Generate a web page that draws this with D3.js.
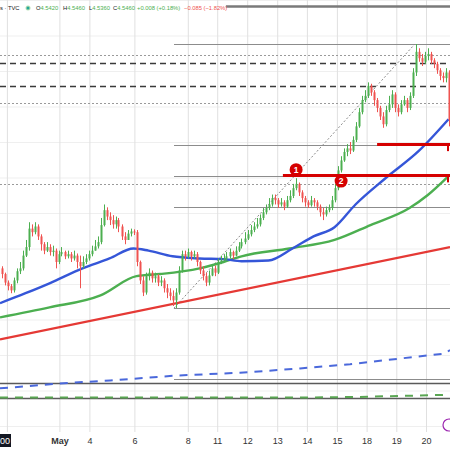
<!DOCTYPE html>
<html>
<head>
<meta charset="utf-8">
<title>TVC 2H chart</title>
<style>
  body { margin: 0; background: #fff; }
  svg { display: block; font-family: "Liberation Sans", Arial, sans-serif; }
  .hgrid line { stroke: #efefef; }
  .vgrid line { stroke: #e0e0e0; }
  .hgrid path, .vgrid path, .xaxis path, .xaxis line { display: none; }
  .xaxis text { fill: #333; font-size: 9px; }
</style>
</head>
<body>
<div id="chart"></div>
<script src="https://cdn.jsdelivr.net/npm/d3@7"></script>
<script>
// candles (open = previous close)
var firstOpen = 4.422;
var closes = [
  4.414, 4.402, 4.397, 4.391, 4.405, 4.418, 4.422, 4.440, 4.452, 4.478,
  4.473, 4.481, 4.467, 4.456, 4.447, 4.452, 4.445, 4.447, 4.431, 4.442,
  4.445, 4.439, 4.442, 4.436, 4.440, 4.431, 4.425, 4.431, 4.436, 4.442,
  4.447, 4.453, 4.459, 4.483, 4.504, 4.495, 4.490, 4.484, 4.490, 4.481,
  4.467, 4.462, 4.471, 4.474, 4.473, 4.431, 4.405, 4.388, 4.411, 4.416,
  4.408, 4.411, 4.402, 4.405, 4.394, 4.388, 4.383, 4.377, 4.388, 4.419,
  4.442, 4.439, 4.445, 4.439, 4.442, 4.431, 4.419, 4.411, 4.402, 4.412,
  4.422, 4.416, 4.431, 4.433, 4.436, 4.439, 4.445, 4.440, 4.447, 4.453,
  4.459, 4.464, 4.470, 4.476, 4.481, 4.484, 4.493, 4.501, 4.507, 4.512,
  4.521, 4.518, 4.512, 4.515, 4.509, 4.518, 4.524, 4.535, 4.541, 4.529,
  4.521, 4.515, 4.511, 4.518, 4.515, 4.509, 4.501, 4.498, 4.504, 4.507,
  4.518, 4.535, 4.560, 4.574, 4.586, 4.591, 4.588, 4.603, 4.622, 4.642,
  4.659, 4.665, 4.679, 4.670, 4.659, 4.648, 4.636, 4.625, 4.645, 4.653,
  4.667, 4.648, 4.642, 4.653, 4.659, 4.648, 4.665, 4.698, 4.727, 4.718,
  4.713, 4.721, 4.724, 4.715, 4.710, 4.701, 4.693, 4.690, 4.698, 4.631
];
var highs = [
  4.425, 4.416, 4.405, 4.400, 4.409, 4.422, 4.431, 4.447, 4.462, 4.487,
  4.484, 4.487, 4.484, 4.470, 4.459, 4.459, 4.456, 4.454, 4.450, 4.447,
  4.452, 4.447, 4.447, 4.445, 4.447, 4.443, 4.440, 4.439, 4.442, 4.447,
  4.454, 4.462, 4.467, 4.493, 4.512, 4.508, 4.501, 4.497, 4.495, 4.493,
  4.484, 4.473, 4.476, 4.478, 4.477, 4.476, 4.433, 4.411, 4.416, 4.422,
  4.419, 4.416, 4.414, 4.411, 4.408, 4.400, 4.394, 4.391, 4.394, 4.425,
  4.447, 4.447, 4.450, 4.447, 4.447, 4.445, 4.433, 4.425, 4.416, 4.419,
  4.428, 4.426, 4.436, 4.440, 4.442, 4.445, 4.450, 4.447, 4.453, 4.459,
  4.464, 4.473, 4.476, 4.483, 4.487, 4.493, 4.498, 4.507, 4.512, 4.521,
  4.526, 4.526, 4.521, 4.521, 4.518, 4.524, 4.532, 4.541, 4.549, 4.543,
  4.532, 4.524, 4.518, 4.524, 4.521, 4.518, 4.512, 4.507, 4.509, 4.512,
  4.524, 4.541, 4.566, 4.580, 4.591, 4.597, 4.600, 4.608, 4.628, 4.648,
  4.665, 4.673, 4.684, 4.682, 4.673, 4.662, 4.651, 4.642, 4.651, 4.665,
  4.673, 4.670, 4.653, 4.659, 4.665, 4.662, 4.670, 4.704, 4.738, 4.732,
  4.724, 4.727, 4.732, 4.727, 4.718, 4.713, 4.704, 4.698, 4.704, 4.701
];
var lows = [
  4.408, 4.398, 4.391, 4.387, 4.388, 4.401, 4.414, 4.419, 4.438, 4.447,
  4.467, 4.470, 4.462, 4.447, 4.442, 4.445, 4.440, 4.439, 4.422, 4.428,
  4.439, 4.435, 4.436, 4.431, 4.433, 4.422, 4.394, 4.422, 4.428, 4.433,
  4.439, 4.447, 4.450, 4.456, 4.481, 4.490, 4.483, 4.478, 4.478, 4.473,
  4.462, 4.456, 4.462, 4.467, 4.469, 4.425, 4.400, 4.383, 4.385, 4.405,
  4.402, 4.402, 4.397, 4.397, 4.388, 4.380, 4.377, 4.369, 4.366, 4.385,
  4.416, 4.433, 4.436, 4.433, 4.436, 4.425, 4.414, 4.405, 4.397, 4.398,
  4.411, 4.411, 4.414, 4.428, 4.431, 4.433, 4.436, 4.435, 4.439, 4.445,
  4.450, 4.456, 4.462, 4.467, 4.473, 4.478, 4.481, 4.490, 4.498, 4.504,
  4.509, 4.512, 4.507, 4.509, 4.504, 4.507, 4.515, 4.521, 4.532, 4.524,
  4.515, 4.509, 4.507, 4.509, 4.509, 4.504, 4.495, 4.490, 4.495, 4.501,
  4.504, 4.515, 4.532, 4.557, 4.572, 4.580, 4.583, 4.586, 4.600, 4.620,
  4.639, 4.656, 4.662, 4.665, 4.651, 4.642, 4.631, 4.620, 4.622, 4.642,
  4.648, 4.642, 4.636, 4.639, 4.651, 4.642, 4.645, 4.662, 4.693, 4.713,
  4.707, 4.710, 4.715, 4.710, 4.704, 4.696, 4.687, 4.684, 4.684, 4.622
];

// moving averages (knots at bar positions)
var maBlueAt = [0, 8.5, 16.5, 27.5, 36.5, 44.5, 49.5, 57.5, 66.5, 74.5, 80.5, 89.5, 97.5, 104.5, 111.5, 118.5, 128.5, 139.5, 149.5];
var maBlue = [4.373, 4.387, 4.401, 4.422, 4.436, 4.450, 4.447, 4.439, 4.436, 4.435, 4.432, 4.433, 4.450, 4.467, 4.480, 4.512, 4.549, 4.587, 4.632];
var maGreenAt = [0, 16.5, 33.5, 45.5, 53.5, 66.5, 74.5, 80.5, 96.5, 111.5, 123.5, 136.5, 142.5, 149.5];
var maGreen = [4.353, 4.367, 4.384, 4.411, 4.414, 4.422, 4.431, 4.439, 4.450, 4.462, 4.483, 4.507, 4.525, 4.552];
var longBlueAt = [0, 20, 36.7, 58.3, 80, 100, 116.7, 133.3, 148.3, 150];
var longBlue = [4.253, 4.260, 4.264, 4.271, 4.275, 4.281, 4.287, 4.295, 4.302, 4.307];
var longGreenAt = [0, 100, 120, 150];
var longGreen = [4.240, 4.240, 4.241, 4.244];
var trendAt = [0, 150];
var trend = [4.322, 4.452];

// drawn levels
var fibStart = 58;
var fibLevels = [4.738, 4.596, 4.552, 4.508, 4.366, 4.266];
var fibDiagAt = [58, 138.3];
var fibDiag = [4.366, 4.738];
var fullLevels = [4.260, 4.239];
var dashedLevels = [4.711, 4.679];
var dottedLevels = [4.722, 4.655, 4.541];
var topLevel = 4.791, topLevelStart = 75.3;
var redLevels = [4.553, 4.597];
var redLevelStart = [94.3, 125.7];
var markerLabels = ['1', '2'];
var markerAt = [98.7, 113.7];
var markerPrice = [4.561, 4.545];

// time axis
var tickAt = [2.3, 19.8, 29.8, 44.8, 62.6, 72.4, 82.4, 92.4, 102.3, 112.3, 122.2, 132.1, 142];
var tickLabels = ['', 'May', '4', '6', '8', '11', '12', '13', '14', '15', '18', '19', '20'];

var width = 450, height = 450, paneBottom = 432;
var green = '#4caf50', red = '#ef5350';

var x = d3.scaleLinear().domain([0, 150]).range([0, width]);
var y = d3.scaleLinear().domain([4.80, 4.20]).range([0, 426]);

var svg = d3.select('#chart').append('svg')
  .attr('width', width).attr('height', height);

svg.append('clipPath').attr('id', 'pane')
  .append('rect').attr('width', width).attr('height', paneBottom);

// grid
svg.append('g').attr('class', 'hgrid')
  .call(d3.axisLeft(y).tickValues(d3.range(4.20, 4.801, 0.05)).tickSize(-width).tickFormat(''));
svg.append('g').attr('class', 'vgrid')
  .attr('transform', 'translate(0,' + paneBottom + ')')
  .call(d3.axisBottom(x).tickValues(tickAt).tickSize(-paneBottom).tickFormat(''));

var g = svg.append('g').attr('clip-path', 'url(#pane)');

function hline(price, from, color, w, dash) {
  g.append('line')
    .attr('x1', x(from)).attr('x2', width)
    .attr('y1', Math.round(y(price)) + 0.5).attr('y2', Math.round(y(price)) + 0.5)
    .attr('stroke', color).attr('stroke-width', w)
    .attr('stroke-dasharray', dash || null);
}

hline(topLevel, topLevelStart, '#7a7a7a', 2.5);
dottedLevels.forEach(function(p) { hline(p, 0, '#9a9a9a', 1, '2,2'); });
dashedLevels.forEach(function(p) { hline(p, 0, '#3a3a3a', 1.5, '6,4'); });
fibLevels.forEach(function(p) { hline(p, fibStart, '#8c8c8c', 1.2); });
fullLevels.forEach(function(p) { hline(p, 0, '#5a5a5a', 1.5); });

function series(at, vals) {
  return at.map(function(a, i) { return [a, vals[i]]; });
}
var straight = d3.line().x(function(d) { return x(d[0]); }).y(function(d) { return y(d[1]); });
var smooth = d3.line().curve(d3.curveMonotoneX)
  .x(function(d) { return x(d[0]); }).y(function(d) { return y(d[1]); });

g.append('path').attr('d', straight(series(fibDiagAt, fibDiag)))
  .attr('fill', 'none').attr('stroke', '#8a8a8a').attr('stroke-width', 1).attr('stroke-dasharray', '2,2');

g.append('path').attr('d', straight(series(longGreenAt, longGreen)))
  .attr('fill', 'none').attr('stroke', '#5aa653').attr('stroke-width', 2).attr('stroke-dasharray', '8,7');
g.append('path').attr('d', straight(series(longBlueAt, longBlue)))
  .attr('fill', 'none').attr('stroke', '#4a68db').attr('stroke-width', 2).attr('stroke-dasharray', '8,7');

g.append('path').attr('d', straight(series(trendAt, trend)))
  .attr('fill', 'none').attr('stroke', '#e53935').attr('stroke-width', 2.2);

g.append('path').attr('d', smooth(series(maGreenAt, maGreen)))
  .attr('fill', 'none').attr('stroke', '#4caf50').attr('stroke-width', 2.4);
g.append('path').attr('d', smooth(series(maBlueAt, maBlue)))
  .attr('fill', 'none').attr('stroke', '#3556d8').attr('stroke-width', 2.4);

// candles
var bars = closes.map(function(c, i) {
  return { i: i, o: i ? closes[i - 1] : firstOpen, h: highs[i], l: lows[i], c: c };
});
var cx = function(d) { return Math.round(x(d.i + 0.5)); };
var col = function(d) { return d.c >= d.o ? green : red; };

g.selectAll('line.wick').data(bars).join('line').attr('class', 'wick')
  .attr('x1', function(d) { return cx(d) + 0.5; })
  .attr('x2', function(d) { return cx(d) + 0.5; })
  .attr('y1', function(d) { return y(d.h); })
  .attr('y2', function(d) { return y(d.l); })
  .attr('stroke', col).attr('stroke-width', 1);

g.selectAll('rect.body').data(bars).join('rect').attr('class', 'body')
  .attr('x', function(d) { return cx(d) - 0.5; })
  .attr('width', 2)
  .attr('y', function(d) { return y(Math.max(d.o, d.c)); })
  .attr('height', function(d) { return Math.max(1, Math.abs(y(d.o) - y(d.c))); })
  .attr('fill', col);

// red levels with end marks
redLevels.forEach(function(p, i) {
  hline(p, redLevelStart[i], '#d50000', 3);
  g.append('rect').attr('x', width - 3).attr('y', y(p)).attr('width', 2).attr('height', 7)
    .attr('fill', '#d50000');
});

var mk = g.selectAll('g.marker').data(markerLabels).join('g').attr('class', 'marker')
  .attr('transform', function(d, i) { return 'translate(' + x(markerAt[i]) + ',' + y(markerPrice[i]) + ')'; });
mk.append('circle').attr('r', 6.5).attr('fill', '#d50000');
mk.append('text').text(function(d) { return d; })
  .attr('text-anchor', 'middle').attr('dy', '0.35em')
  .attr('fill', '#fff').attr('font-size', 8.5).attr('font-weight', 'bold');

// header
var hdr = svg.append('g').attr('font-size', 5.8);
hdr.append('text').attr('x', 0).attr('y', 10).attr('fill', '#131722').text('s · TVC');
hdr.append('circle').attr('cx', 28).attr('cy', 8).attr('r', 2.5).attr('fill', '#b7e1b4');
hdr.append('circle').attr('cx', 28).attr('cy', 8).attr('r', 1.5).attr('fill', '#26a69a');
var parts = [
  { x: 36, k: 'O', v: '4.5420' }, { x: 63, k: 'H', v: '4.5460' },
  { x: 89, k: 'L', v: '4.5360' }, { x: 113, k: 'C', v: '4.5460' }
];
parts.forEach(function(p) {
  var t = hdr.append('text').attr('x', p.x).attr('y', 10);
  t.append('tspan').attr('fill', '#131722').text(p.k);
  t.append('tspan').attr('fill', '#4caf50').text(p.v);
});
hdr.append('text').attr('x', 137).attr('y', 10).attr('fill', '#4caf50').text('+0.008 (+0.18%)');
hdr.append('text').attr('x', 184).attr('y', 10).attr('fill', '#ef5350').text('\u22120.085 (\u22121.82%)');

// time axis
svg.append('g').attr('class', 'xaxis')
  .attr('transform', 'translate(0,' + paneBottom + ')')
  .call(d3.axisBottom(x).tickValues(tickAt).tickSize(0).tickPadding(6)
    .tickFormat(function(d, i) { return tickLabels[i]; }))
  .selectAll('text').attr('font-weight', function(d, i) { return tickLabels[i] === 'May' ? 'bold' : null; });

svg.append('rect').attr('x', -4).attr('y', 434).attr('width', 15).attr('height', 13).attr('fill', '#131722');
svg.append('text').attr('x', 10).attr('y', 444).attr('text-anchor', 'end')
  .attr('fill', '#fff').attr('font-size', 9).text('00');

svg.append('circle').attr('cx', 449).attr('cy', 425).attr('r', 6)
  .attr('fill', '#fff').attr('stroke', '#9c27b0').attr('stroke-width', 1.2);
</script>
</body>
</html>
